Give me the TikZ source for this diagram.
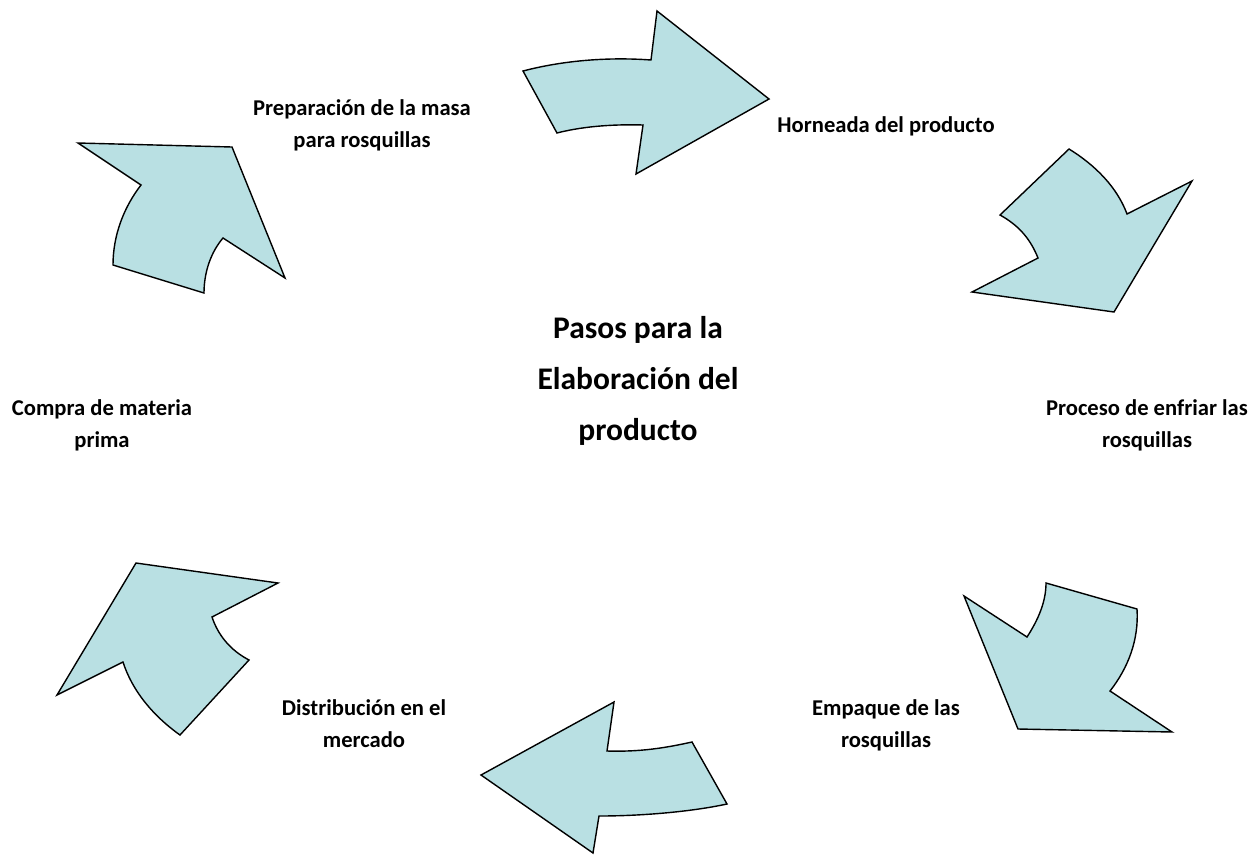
\documentclass[tikz,border=0pt]{standalone}
\usepackage{fontspec}
\setmainfont{Carlito}
\definecolor{arrowfill}{HTML}{B9E0E3}
\begin{document}
\begin{tikzpicture}[x=1pt,y=-1pt,
  cyc/.style={draw=black,line width=1.4pt,fill=arrowfill,line join=miter},
  lbl/.style={font=\fontsize{22.6}{31.5}\selectfont\bfseries,align=center,inner sep=0pt,anchor=base},
  ttl/.style={font=\fontsize{31.5}{51}\selectfont\bfseries,align=center,inner sep=0pt,anchor=base}]
\useasboundingbox (0,0) rectangle (1260,863);
% arrow 1 (top)
\draw[cyc] (523,71) .. controls (565,60) and (610,57) .. (651,60) -- (657,11) -- (769,99) -- (636,174) -- (643,125) .. controls (610,124) and (580,127) .. (557,133) -- cycle;
% arrow 2 (upper right)
\draw[cyc] (1069,149) .. controls (1095,165) and (1117,187) .. (1127,214) -- (1192,181) -- (1114,312) -- (972,292) -- (1038,258) .. controls (1030,238) and (1018,225) .. (1000,215) -- cycle;
% arrow 3 (lower right)
\draw[cyc] (964,596) -- (1027,637) .. controls (1038,620) and (1046,602) .. (1046,583) -- (1137,609) .. controls (1139,640) and (1128,668) .. (1110,691) -- (1172,732) -- (1018,729) -- cycle;
% arrow 4 (bottom)
\draw[cyc] (481,775) -- (614,702) -- (607,751) .. controls (640,752) and (665,748) .. (692,742) -- (727,804) .. controls (690,812) and (640,816) .. (599,816) -- (593,853) -- cycle;
% arrow 5 (lower left)
\draw[cyc] (136,563) -- (278,583) -- (212,617) .. controls (218,635) and (230,650) .. (249,660) -- (180,735) .. controls (152,715) and (132,690) .. (123,662) -- (57,695) -- cycle;
% arrow 6 (upper left)
\draw[cyc] (78,143) -- (232,147) -- (285,278) -- (223,238) .. controls (211,252) and (204,272) .. (204,293) -- (113,265) .. controls (113,235) and (124,207) .. (141,185) -- cycle;
% labels (base anchor = baseline of last line)
\node[lbl] (prep) at (362,147) {Preparación de la masa\\para rosquillas};
\node[lbl] (horn) at (886,132) {Horneada del producto};
\node[lbl] (enfr) at (1147,447) {Proceso de enfriar las\\rosquillas};
\node[lbl] (empa) at (886,747) {Empaque de las\\rosquillas};
\node[lbl] (dist) at (364,747) {Distribución en el\\mercado};
\node[lbl] (comp) at (102,447) {Compra de materia\\prima};
\node[ttl] (title) at (638,440) {Pasos para la\\Elaboración del\\producto};
\end{tikzpicture}
\end{document}
